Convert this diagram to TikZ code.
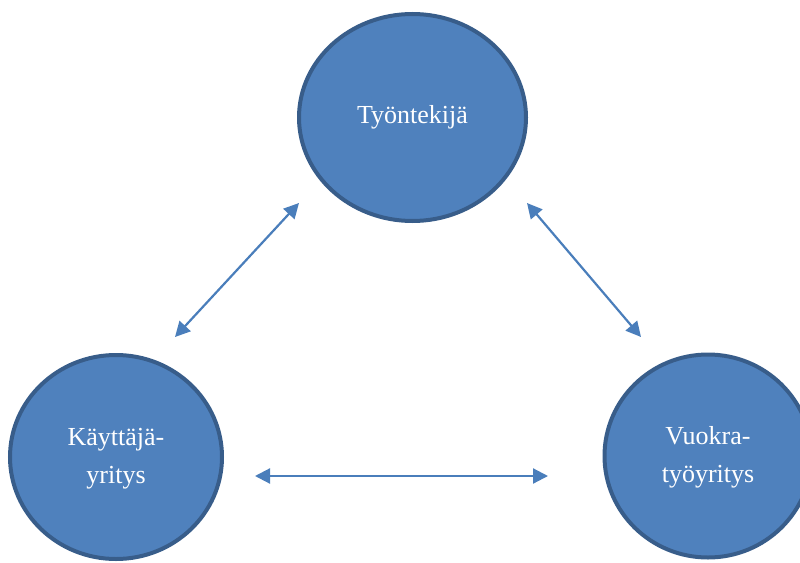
\documentclass[tikz,border=0pt]{standalone}
\usepackage{fontspec}
\setmainfont{Liberation Serif}
\usetikzlibrary{shapes.geometric,arrows.meta}
\definecolor{fillblue}{HTML}{4F81BD}
\definecolor{edgeblue}{HTML}{385D8A}
\definecolor{arrowblue}{HTML}{4A7EBB}
\newcommand{\twolines}[2]{\raisebox{-4pt}{\begin{tabular}{@{}c@{}}#1\\#2\end{tabular}}}
\begin{document}
\begin{tikzpicture}[x=1pt,y=-1pt,
  party/.style={ellipse, draw=edgeblue, fill=fillblue, line width=4pt,
    text=white, align=center, inner sep=0pt,
    font=\fontsize{26}{38}\selectfont},
  link/.style={draw=arrowblue, line width=2.2pt,
    {Triangle[length=15pt,width=15pt]}-{Triangle[length=15pt,width=15pt]}}]
\useasboundingbox (0,0) rectangle (800,562);
\clip (0,0) rectangle (800,562);
\node[party, minimum width=227pt, minimum height=207pt] (tyontekija) at (412.5,117.5) {Työntekijä};
\node[party, minimum width=212pt, minimum height=204pt] (kayttaja) at (116,457) {\twolines{Käyttäjä-}{yritys}};
\node[party, minimum width=207pt, minimum height=203pt] (vuokra) at (708,456) {\twolines{Vuokra-}{työyritys}};
\coordinate (l1) at (299,203);
\coordinate (l2) at (175,337);
\coordinate (r1) at (527,203);
\coordinate (r2) at (641,337);
\coordinate (h1) at (255,476);
\coordinate (h2) at (548,476);
\draw[link] (l2) -- (l1);
\draw[link] (r1) -- (r2);
\draw[link] (h1) -- (h2);
\end{tikzpicture}
\end{document}
